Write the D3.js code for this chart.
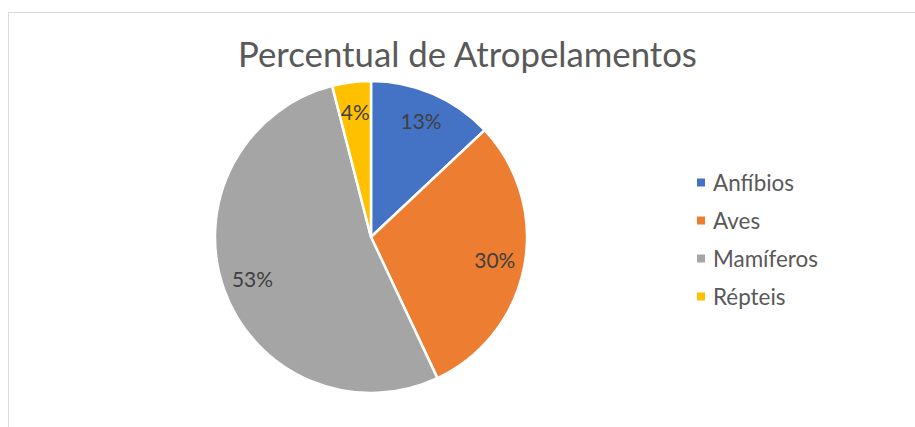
<!DOCTYPE html>
<html>
<head>
<meta charset="utf-8">
<script src="https://cdn.jsdelivr.net/npm/d3@7"></script>
<style>
  html, body { margin: 0; padding: 0; background: #fff; }
  svg { display: block; }
</style>
</head>
<body>
<svg id="chart" width="915" height="427"></svg>
<script>
const title = "Percentual de Atropelamentos";
const categories = ["Anfíbios", "Aves", "Mamíferos", "Répteis"];
const values = [13, 30, 53, 4];
const labels = ["13%", "30%", "53%", "4%"];
const colors = ["#4472C4", "#ED7D31", "#A5A5A5", "#FFC000"];

const svg = d3.select("#chart");
const FONT = "Lato, 'Open Sans', 'Noto Sans', sans-serif";

// chart border
svg.append("rect")
  .attr("x", 8.5).attr("y", 12.5)
  .attr("width", 1000).attr("height", 1000)
  .attr("fill", "#fff").attr("stroke", "#d9d9d9").attr("stroke-width", 1);

function fitText(sel, targetWidth, startSize) {
  sel.attr("font-size", startSize);
  const w = sel.node().getComputedTextLength();
  sel.attr("font-size", startSize * targetWidth / w);
}

// title
const t = svg.append("text")
  .attr("x", 467.5).attr("y", 67)
  .attr("text-anchor", "middle")
  .attr("font-family", FONT)
  .attr("font-weight", 400)
  .attr("fill", "#595959")
  .text(title);
fitText(t, 459, 32);

// pie
const cx = 371, cy = 237, r = 156;
const pie = d3.pie().sort(null).value(d => d)(values);
const arc = d3.arc().innerRadius(0).outerRadius(r);
const labelArc = d3.arc().innerRadius(126).outerRadius(126);

const g = svg.append("g").attr("transform", `translate(${cx},${cy})`);
g.selectAll("path.slice").data(pie).join("path")
  .attr("class", "slice")
  .attr("d", arc)
  .attr("fill", (d, i) => colors[i])
  .attr("stroke", "#fff")
  .attr("stroke-width", 2.5)
  .attr("stroke-linejoin", "round");

const lbl = g.selectAll("text.lbl").data(pie).join("text")
  .attr("class", "lbl")
  .attr("transform", d => `translate(${labelArc.centroid(d)})`)
  .attr("text-anchor", "middle")
  .attr("dy", "0.36em")
  .attr("font-family", FONT)
  .attr("fill", "#404040")
  .text((d, i) => labels[i]);
{
  const probe = lbl.filter((d, i) => i === 0);
  probe.attr("font-size", 20);
  const w = probe.node().getComputedTextLength();
  lbl.attr("font-size", 20 * 41 / w);
}

// legend
const legY = d3.scalePoint().domain(categories).range([183, 297]);
const leg = svg.append("g");
const items = leg.selectAll("g").data(categories).join("g")
  .attr("transform", d => `translate(0,${legY(d)})`);
items.append("rect")
  .attr("x", 697).attr("y", -4.5)
  .attr("width", 8).attr("height", 8)
  .attr("fill", (d, i) => colors[i]);
const lt = items.append("text")
  .attr("x", 713).attr("y", 0)
  .attr("dy", "0.36em")
  .attr("font-family", FONT)
  .attr("fill", "#595959")
  .text(d => d);
{
  const probe = lt.filter((d, i) => i === 2);
  probe.attr("font-size", 20);
  const w = probe.node().getComputedTextLength();
  lt.attr("font-size", 20 * 105 / w);
}
</script>
</body>
</html>
